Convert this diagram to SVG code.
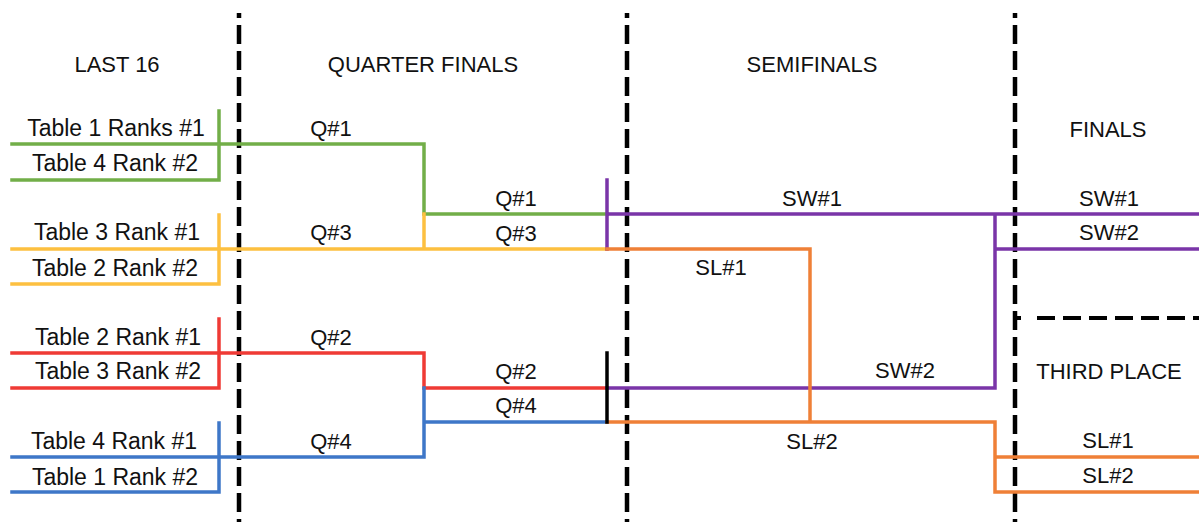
<svg xmlns="http://www.w3.org/2000/svg" width="1199" height="522" viewBox="0 0 1199 522">
<style>
text{font-family:"Liberation Sans",Arial,sans-serif;font-size:22px;fill:#111;text-anchor:middle}
.t{font-size:23px}
.l{fill:none;stroke-width:3.5;stroke-linecap:square;stroke-linejoin:miter}
.g{stroke:#72AE48}.y{stroke:#FDC040}.r{stroke:#EF3A35}.b{stroke:#3E77C8}.p{stroke:#7A35A8}.o{stroke:#EF8037}.k{stroke:#000}
.d{stroke:#000;stroke-width:4.5;stroke-dasharray:19 7;stroke-dashoffset:14;fill:none}
.dh{stroke:#000;stroke-width:4;stroke-dasharray:18 8;fill:none}
</style>
<rect width="1199" height="522" fill="#fff"/>
<g id="dividers">
<line class="d" x1="239" y1="13" x2="239" y2="522"/>
<line class="d" x1="627" y1="13" x2="627" y2="522"/>
<line class="d" x1="1015" y1="13" x2="1015" y2="522"/>
<line class="dh" x1="1037" y1="318" x2="1199" y2="318"/>
<line stroke="#000" stroke-width="4" x1="1015" y1="318" x2="1021" y2="318"/>
</g>
<g id="headers">
<text x="117" y="72">LAST 16</text>
<text x="423" y="72">QUARTER FINALS</text>
<text x="812" y="72">SEMIFINALS</text>
<text x="1108" y="137">FINALS</text>
<text x="1109" y="379">THIRD PLACE</text>
</g>
<g id="connectors">
<path class="l g" d="M12 144H424V214H607M219 111V180H12"/>
<path class="l y" d="M12 249H607M424 214V249M219 215V284H12"/>
<path class="l r" d="M12 353H424V388H607M219 319V388H12"/>
<path class="l b" d="M12 457H424V388M424 422H607M219 423V492H12"/>
<path class="l p" d="M607 180V249M607 214H1199M995 214V388H607M995 249H1199"/>
<path class="l o" d="M607 249H810V422M607 422H995V492H1199M995 457H1199"/>
<path class="l k" d="M607 353V422"/>
</g>
<g id="t1r1"><text class="t" x="116" y="136">Table 1 Ranks #1</text></g>
<g id="t4r2"><text class="t" x="115" y="171">Table 4 Rank #2</text></g>
<g id="t3r1"><text class="t" x="117" y="240">Table 3 Rank #1</text></g>
<g id="t2r2"><text class="t" x="115" y="276">Table 2 Rank #2</text></g>
<g id="t2r1"><text class="t" x="118" y="345">Table 2 Rank #1</text></g>
<g id="t3r2"><text class="t" x="118" y="379">Table 3 Rank #2</text></g>
<g id="t4r1"><text class="t" x="114" y="449">Table 4 Rank #1</text></g>
<g id="t1r2"><text class="t" x="115" y="485">Table 1 Rank #2</text></g>
<g id="q1a"><text x="331" y="136">Q#1</text></g>
<g id="q3a"><text x="331" y="240">Q#3</text></g>
<g id="q2a"><text x="331" y="345">Q#2</text></g>
<g id="q4a"><text x="331" y="449">Q#4</text></g>
<g id="q1b"><text x="516" y="206">Q#1</text></g>
<g id="q3b"><text x="516" y="241">Q#3</text></g>
<g id="q2b"><text x="516" y="379">Q#2</text></g>
<g id="q4b"><text x="516" y="413">Q#4</text></g>
<g id="sw1a"><text x="812" y="206">SW#1</text></g>
<g id="sl1a"><text x="721" y="275">SL#1</text></g>
<g id="sw2a"><text x="905" y="378">SW#2</text></g>
<g id="sl2a"><text x="812" y="449">SL#2</text></g>
<g id="sw1b"><text x="1109" y="206">SW#1</text></g>
<g id="sw2b"><text x="1109" y="240">SW#2</text></g>
<g id="sl1b"><text x="1108" y="448">SL#1</text></g>
<g id="sl2b"><text x="1108" y="483">SL#2</text></g>
</svg>
